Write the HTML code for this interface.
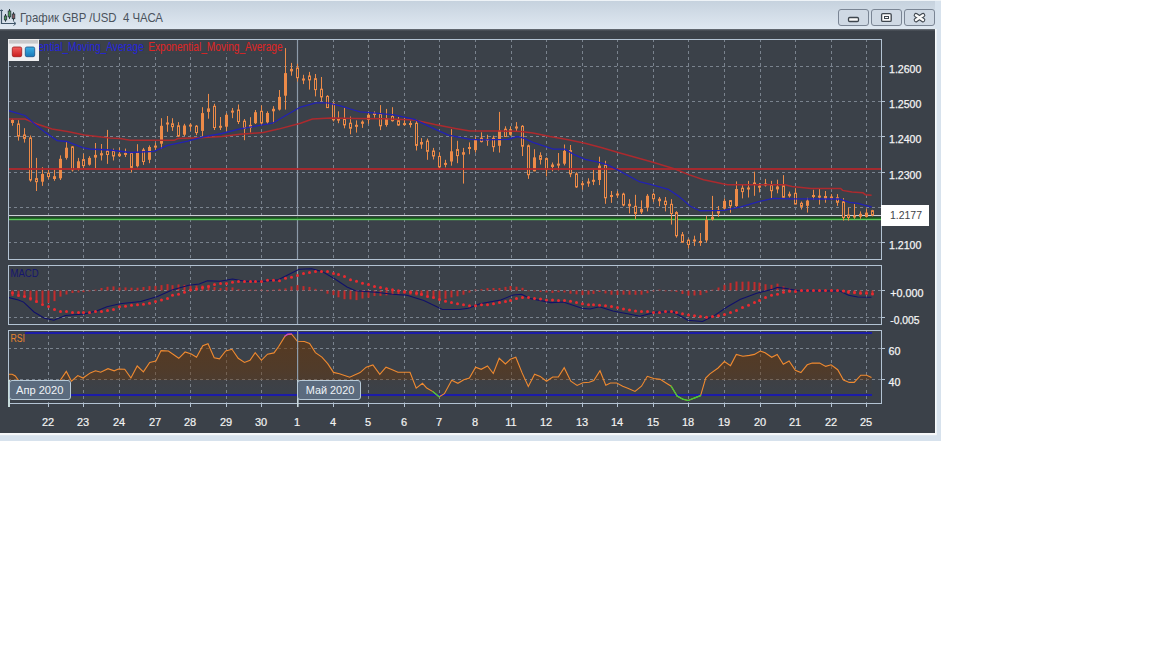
<!DOCTYPE html>
<html><head><meta charset="utf-8">
<style>
html,body{margin:0;padding:0;width:1152px;height:648px;overflow:hidden;background:#fff;}
svg{display:block;}
text{font-family:"Liberation Sans",sans-serif;}
</style></head><body>
<svg width="1152" height="648" viewBox="0 0 1152 648">
<defs>
<linearGradient id="tb" x1="0" y1="0" x2="0" y2="1"><stop offset="0" stop-color="#c6d2de"/><stop offset="1" stop-color="#dfe8f1"/></linearGradient>
<linearGradient id="sh" x1="0" y1="0" x2="0" y2="1"><stop offset="0" stop-color="#6c737b"/><stop offset="1" stop-color="#3b4149"/></linearGradient>
<linearGradient id="rsif" gradientUnits="userSpaceOnUse" x1="0" y1="332" x2="0" y2="395"><stop offset="0" stop-color="#6a3404" stop-opacity="0.6"/><stop offset="0.6" stop-color="#6a3404" stop-opacity="0.45"/><stop offset="0.755" stop-color="#6a3404" stop-opacity="0.38"/><stop offset="0.765" stop-color="#6a3404" stop-opacity="0.07"/><stop offset="1" stop-color="#6a3404" stop-opacity="0"/></linearGradient>
<linearGradient id="rb" x1="0" y1="0" x2="0" y2="1"><stop offset="0" stop-color="#f46060"/><stop offset="1" stop-color="#c81c1c"/></linearGradient>
<linearGradient id="bb" x1="0" y1="0" x2="0" y2="1"><stop offset="0" stop-color="#3cb0e4"/><stop offset="1" stop-color="#1878b8"/></linearGradient>
<clipPath id="cmain"><rect x="9" y="40" width="872" height="219"/></clipPath>
<clipPath id="cmacd"><rect x="9" y="266" width="872" height="58"/></clipPath>
<clipPath id="crsi"><rect x="9" y="331" width="872" height="72"/></clipPath>
<clipPath id="crsiabove"><rect x="9" y="331" width="872" height="64.5"/></clipPath>
</defs>
<rect x="0" y="0" width="941" height="441" fill="#d7e2ed"/>
<rect x="0" y="0" width="941" height="1" fill="#eef3f7"/>
<rect x="0" y="1" width="935" height="28" fill="url(#tb)"/>
<rect x="0" y="29" width="935" height="404" fill="#3b4149"/>
<rect x="0" y="29" width="935" height="2" fill="url(#sh)"/>
<rect x="0" y="433" width="936.5" height="2.2" fill="#f6f8fa"/>
<rect x="935" y="29" width="1.6" height="406" fill="#f6f8fa"/>
<g>
<path d="M1.5 9.5 V23.5 H15" fill="none" stroke="#3e5468" stroke-width="1.2"/>
<path d="M0 10.5 H3" stroke="#3e5468" stroke-width="1"/>
<path d="M13.5 21.5 L16 23.5 L13.5 25.5" fill="none" stroke="#3e5468" stroke-width="1"/>
<path d="M5.5 14 V21.7 M9.5 9 V18.9 M13.5 12.2 V20.7" stroke="#26363e" stroke-width="1"/>
<rect x="4.3" y="16" width="2.4" height="3.9" fill="#4e9a56" stroke="#26363e" stroke-width="0.8"/>
<rect x="8.2" y="11" width="2.6" height="5.9" fill="#4e9a56" stroke="#26363e" stroke-width="0.8"/>
<rect x="12.2" y="14" width="2.6" height="4.7" fill="#8a5a62" stroke="#26363e" stroke-width="0.8"/>
</g>
<text x="20" y="21.7" font-size="12.2" fill="#4b535d" textLength="143" lengthAdjust="spacingAndGlyphs" xml:space="preserve">График GBP /USD  4 ЧАСА</text>
<g stroke="#7a8594" stroke-width="1" fill="#cfd9e4">
<rect x="838.5" y="9.5" width="30" height="16" rx="2.5"/>
<rect x="871.5" y="9.5" width="30" height="16" rx="2.5"/>
<rect x="904.5" y="9.5" width="30" height="16" rx="2.5"/>
</g>
<rect x="848.5" y="17.5" width="10" height="4" rx="1.2" fill="#fafafa" stroke="#3e464e" stroke-width="1.3"/>
<rect x="881.6" y="13.6" width="9.6" height="7.8" rx="1.2" fill="#fafafa" stroke="#3e464e" stroke-width="1.3"/>
<rect x="884.5" y="16.5" width="4" height="2" fill="#fafafa" stroke="#3e464e" stroke-width="1"/>
<path d="M916 15.2 L923 20 M923 15.2 L916 20" stroke="#3e464e" stroke-width="4.6" stroke-linecap="round"/>
<path d="M916 15.2 L923 20 M923 15.2 L916 20" stroke="#fafafa" stroke-width="2.5" stroke-linecap="round"/>
<line x1="48.5" y1="39" x2="48.5" y2="259" stroke="#7a838e" stroke-width="1" stroke-dasharray="3 3"/>
<line x1="83.5" y1="39" x2="83.5" y2="259" stroke="#7a838e" stroke-width="1" stroke-dasharray="3 3"/>
<line x1="119.5" y1="39" x2="119.5" y2="259" stroke="#7a838e" stroke-width="1" stroke-dasharray="3 3"/>
<line x1="155.5" y1="39" x2="155.5" y2="259" stroke="#7a838e" stroke-width="1" stroke-dasharray="3 3"/>
<line x1="190.5" y1="39" x2="190.5" y2="259" stroke="#7a838e" stroke-width="1" stroke-dasharray="3 3"/>
<line x1="226.5" y1="39" x2="226.5" y2="259" stroke="#7a838e" stroke-width="1" stroke-dasharray="3 3"/>
<line x1="261.5" y1="39" x2="261.5" y2="259" stroke="#7a838e" stroke-width="1" stroke-dasharray="3 3"/>
<line x1="297.5" y1="39" x2="297.5" y2="259" stroke="#7a838e" stroke-width="1" stroke-dasharray="3 3"/>
<line x1="333.5" y1="39" x2="333.5" y2="259" stroke="#7a838e" stroke-width="1" stroke-dasharray="3 3"/>
<line x1="368.5" y1="39" x2="368.5" y2="259" stroke="#7a838e" stroke-width="1" stroke-dasharray="3 3"/>
<line x1="404.5" y1="39" x2="404.5" y2="259" stroke="#7a838e" stroke-width="1" stroke-dasharray="3 3"/>
<line x1="439.5" y1="39" x2="439.5" y2="259" stroke="#7a838e" stroke-width="1" stroke-dasharray="3 3"/>
<line x1="475.5" y1="39" x2="475.5" y2="259" stroke="#7a838e" stroke-width="1" stroke-dasharray="3 3"/>
<line x1="511.5" y1="39" x2="511.5" y2="259" stroke="#7a838e" stroke-width="1" stroke-dasharray="3 3"/>
<line x1="546.5" y1="39" x2="546.5" y2="259" stroke="#7a838e" stroke-width="1" stroke-dasharray="3 3"/>
<line x1="582.5" y1="39" x2="582.5" y2="259" stroke="#7a838e" stroke-width="1" stroke-dasharray="3 3"/>
<line x1="617.5" y1="39" x2="617.5" y2="259" stroke="#7a838e" stroke-width="1" stroke-dasharray="3 3"/>
<line x1="653.5" y1="39" x2="653.5" y2="259" stroke="#7a838e" stroke-width="1" stroke-dasharray="3 3"/>
<line x1="688.5" y1="39" x2="688.5" y2="259" stroke="#7a838e" stroke-width="1" stroke-dasharray="3 3"/>
<line x1="724.5" y1="39" x2="724.5" y2="259" stroke="#7a838e" stroke-width="1" stroke-dasharray="3 3"/>
<line x1="760.5" y1="39" x2="760.5" y2="259" stroke="#7a838e" stroke-width="1" stroke-dasharray="3 3"/>
<line x1="795.5" y1="39" x2="795.5" y2="259" stroke="#7a838e" stroke-width="1" stroke-dasharray="3 3"/>
<line x1="831.5" y1="39" x2="831.5" y2="259" stroke="#7a838e" stroke-width="1" stroke-dasharray="3 3"/>
<line x1="866.5" y1="39" x2="866.5" y2="259" stroke="#7a838e" stroke-width="1" stroke-dasharray="3 3"/>
<line x1="8" y1="66.5" x2="881" y2="66.5" stroke="#7a838e" stroke-width="1" stroke-dasharray="3 3"/>
<line x1="881" y1="66.5" x2="885" y2="66.5" stroke="#b3c3d3" stroke-width="1"/>
<line x1="8" y1="101.5" x2="881" y2="101.5" stroke="#7a838e" stroke-width="1" stroke-dasharray="3 3"/>
<line x1="881" y1="101.5" x2="885" y2="101.5" stroke="#b3c3d3" stroke-width="1"/>
<line x1="8" y1="136.5" x2="881" y2="136.5" stroke="#7a838e" stroke-width="1" stroke-dasharray="3 3"/>
<line x1="881" y1="136.5" x2="885" y2="136.5" stroke="#b3c3d3" stroke-width="1"/>
<line x1="8" y1="172.5" x2="881" y2="172.5" stroke="#7a838e" stroke-width="1" stroke-dasharray="3 3"/>
<line x1="881" y1="172.5" x2="885" y2="172.5" stroke="#b3c3d3" stroke-width="1"/>
<line x1="8" y1="207.5" x2="881" y2="207.5" stroke="#7a838e" stroke-width="1" stroke-dasharray="3 3"/>
<line x1="881" y1="207.5" x2="885" y2="207.5" stroke="#b3c3d3" stroke-width="1"/>
<line x1="8" y1="242.5" x2="881" y2="242.5" stroke="#7a838e" stroke-width="1" stroke-dasharray="3 3"/>
<line x1="881" y1="242.5" x2="885" y2="242.5" stroke="#b3c3d3" stroke-width="1"/>
<line x1="297.5" y1="39" x2="297.5" y2="259" stroke="#8d9baa" stroke-width="1.2"/>
<g clip-path="url(#cmain)">
<rect x="8" y="215" width="873" height="1.2" fill="#cdd1d6"/>
<rect x="8" y="216.2" width="873" height="1.2" fill="#2c3834"/>
<rect x="8" y="217.4" width="873" height="1.4" fill="#0e5c10"/>
<rect x="8" y="218.8" width="873" height="1.4" fill="#5cc45c"/>
<g stroke="#ec8a48" stroke-width="1" fill="none">
<line x1="12.5" y1="118.9" x2="12.5" y2="125.7"/><rect x="11.0" y="120.0" width="3" height="3.0" fill="#ec8a48" stroke="none"/>
<line x1="18.5" y1="120.2" x2="18.5" y2="140.6"/><rect x="17.5" y="124.0" width="2" height="12.2" fill="#3b4149"/>
<line x1="24.5" y1="128.2" x2="24.5" y2="142.6"/><rect x="23.5" y="135.0" width="2" height="3.4" fill="#3b4149"/>
<line x1="30.5" y1="135.5" x2="30.5" y2="181.7"/><rect x="29.5" y="137.9" width="2" height="42.1" fill="#3b4149"/>
<line x1="36.5" y1="157.9" x2="36.5" y2="191.0"/><rect x="35.5" y="178.6" width="2" height="3.1" fill="#3b4149"/>
<line x1="42.5" y1="167.2" x2="42.5" y2="185.9"/><rect x="41.0" y="174.0" width="3" height="7.7" fill="#ec8a48" stroke="none"/>
<line x1="48.5" y1="169.8" x2="48.5" y2="179.1"/><rect x="47.5" y="173.2" width="2" height="3.4" fill="#3b4149"/>
<line x1="54.5" y1="169.5" x2="54.5" y2="180.8"/><rect x="53.0" y="176.2" width="3" height="2.8" fill="#ec8a48" stroke="none"/>
<line x1="60.5" y1="155.4" x2="60.5" y2="180.0"/><rect x="59.0" y="158.8" width="3" height="19.5" fill="#ec8a48" stroke="none"/>
<line x1="66.5" y1="141.8" x2="66.5" y2="159.6"/><rect x="65.0" y="147.7" width="3" height="10.2" fill="#ec8a48" stroke="none"/>
<line x1="72.5" y1="146.0" x2="72.5" y2="171.5"/><rect x="71.5" y="146.9" width="2" height="22.9" fill="#3b4149"/>
<line x1="78.5" y1="157.9" x2="78.5" y2="170.6"/><rect x="77.0" y="161.3" width="3" height="7.7" fill="#ec8a48" stroke="none"/>
<line x1="83.5" y1="153.7" x2="83.5" y2="168.1"/><rect x="82.5" y="159.6" width="2" height="6.0" fill="#3b4149"/>
<line x1="89.5" y1="156.2" x2="89.5" y2="165.6"/><rect x="88.0" y="157.9" width="3" height="6.8" fill="#ec8a48" stroke="none"/>
<line x1="95.5" y1="143.0" x2="95.5" y2="168.1"/><rect x="94.0" y="154.9" width="3" height="2.7" fill="#ec8a48" stroke="none"/>
<line x1="101.5" y1="144.0" x2="101.5" y2="160.5"/><rect x="100.0" y="153.2" width="3" height="2.2" fill="#ec8a48" stroke="none"/>
<line x1="107.5" y1="129.9" x2="107.5" y2="163.9"/><rect x="106.5" y="151.1" width="2" height="3.4" fill="#3b4149"/>
<line x1="113.5" y1="148.6" x2="113.5" y2="160.5"/><rect x="112.5" y="151.0" width="2" height="5.0" fill="#3b4149"/>
<line x1="119.5" y1="147.7" x2="119.5" y2="157.0"/><rect x="118.0" y="153.7" width="3" height="2.5" fill="#ec8a48" stroke="none"/>
<line x1="125.5" y1="148.6" x2="125.5" y2="157.0"/><rect x="124.0" y="152.9" width="3" height="2" fill="#ec8a48" stroke="none"/>
<line x1="131.5" y1="152.2" x2="131.5" y2="172.5"/><rect x="130.5" y="153.0" width="2" height="14.4" fill="#3b4149"/>
<line x1="137.5" y1="144.2" x2="137.5" y2="167.4"/><rect x="136.0" y="152.7" width="3" height="13.5" fill="#ec8a48" stroke="none"/>
<line x1="143.5" y1="147.9" x2="143.5" y2="164.9"/><rect x="142.5" y="150.0" width="2" height="11.5" fill="#3b4149"/>
<line x1="149.5" y1="145.4" x2="149.5" y2="163.2"/><rect x="148.0" y="147.0" width="3" height="12.8" fill="#ec8a48" stroke="none"/>
<line x1="155.5" y1="142.8" x2="155.5" y2="150.5"/><rect x="154.0" y="145.6" width="3" height="2" fill="#ec8a48" stroke="none"/>
<line x1="161.5" y1="118.2" x2="161.5" y2="148.8"/><rect x="160.0" y="125.8" width="3" height="17.9" fill="#ec8a48" stroke="none"/>
<line x1="167.5" y1="116.0" x2="167.5" y2="131.8"/><rect x="166.0" y="122.5" width="3" height="2" fill="#ec8a48" stroke="none"/>
<line x1="172.5" y1="118.2" x2="172.5" y2="130.9"/><rect x="171.5" y="123.8" width="2" height="2.9" fill="#3b4149"/>
<line x1="178.5" y1="122.1" x2="178.5" y2="136.9"/><rect x="177.5" y="125.8" width="2" height="10.2" fill="#3b4149"/>
<line x1="184.5" y1="123.8" x2="184.5" y2="136.0"/><rect x="183.0" y="125.5" width="3" height="9.2" fill="#ec8a48" stroke="none"/>
<line x1="190.5" y1="123.3" x2="190.5" y2="130.9"/><rect x="189.0" y="124.6" width="3" height="2" fill="#ec8a48" stroke="none"/>
<line x1="196.5" y1="125.0" x2="196.5" y2="135.2"/><rect x="195.5" y="126.2" width="2" height="6.4" fill="#3b4149"/>
<line x1="202.5" y1="107.2" x2="202.5" y2="136.0"/><rect x="201.0" y="113.1" width="3" height="17.8" fill="#ec8a48" stroke="none"/>
<line x1="208.5" y1="93.9" x2="208.5" y2="118.7"/><rect x="207.5" y="108.9" width="2" height="2.5" fill="#3b4149"/>
<line x1="214.5" y1="103.8" x2="214.5" y2="130.0"/><rect x="213.5" y="106.3" width="2" height="21.2" fill="#3b4149"/>
<line x1="220.5" y1="117.0" x2="220.5" y2="130.0"/><rect x="219.0" y="125.8" width="3" height="2" fill="#ec8a48" stroke="none"/>
<line x1="226.5" y1="113.1" x2="226.5" y2="130.9"/><rect x="225.0" y="114.8" width="3" height="11.9" fill="#ec8a48" stroke="none"/>
<line x1="232.5" y1="108.0" x2="232.5" y2="118.2"/><rect x="231.0" y="110.6" width="3" height="2" fill="#ec8a48" stroke="none"/>
<line x1="238.5" y1="104.5" x2="238.5" y2="124.0"/><rect x="237.5" y="110.0" width="2" height="11.5" fill="#3b4149"/>
<line x1="244.5" y1="119.0" x2="244.5" y2="140.2"/><rect x="243.5" y="121.2" width="2" height="7.1" fill="#3b4149"/>
<line x1="250.5" y1="117.2" x2="250.5" y2="132.5"/><rect x="249.0" y="124.9" width="3" height="3.1" fill="#ec8a48" stroke="none"/>
<line x1="255.5" y1="110.0" x2="255.5" y2="124.0"/><rect x="254.0" y="112.2" width="3" height="11.0" fill="#ec8a48" stroke="none"/>
<line x1="261.5" y1="105.4" x2="261.5" y2="124.9"/><rect x="260.5" y="111.3" width="2" height="11.6" fill="#3b4149"/>
<line x1="267.5" y1="111.3" x2="267.5" y2="124.0"/><rect x="266.0" y="113.0" width="3" height="9.3" fill="#ec8a48" stroke="none"/>
<line x1="273.5" y1="106.2" x2="273.5" y2="123.2"/><rect x="272.0" y="108.8" width="3" height="2.5" fill="#ec8a48" stroke="none"/>
<line x1="279.5" y1="90.0" x2="279.5" y2="110.5"/><rect x="278.0" y="96.9" width="3" height="12.7" fill="#ec8a48" stroke="none"/>
<line x1="285.5" y1="48.1" x2="285.5" y2="109.6"/><rect x="284.0" y="73.1" width="3" height="22.6" fill="#ec8a48" stroke="none"/>
<line x1="291.5" y1="62.9" x2="291.5" y2="75.7"/><rect x="290.0" y="68.9" width="3" height="2.5" fill="#ec8a48" stroke="none"/>
<line x1="297.5" y1="63.8" x2="297.5" y2="81.6"/><rect x="296.5" y="68.0" width="2" height="9.7" fill="#3b4149"/>
<line x1="303.5" y1="74.8" x2="303.5" y2="84.1"/><rect x="302.0" y="78.5" width="3" height="2" fill="#ec8a48" stroke="none"/>
<line x1="309.5" y1="71.9" x2="309.5" y2="89.6"/><rect x="308.5" y="76.0" width="2" height="3.9" fill="#3b4149"/>
<line x1="315.5" y1="74.0" x2="315.5" y2="96.4"/><rect x="314.5" y="78.7" width="2" height="10.9" fill="#3b4149"/>
<line x1="321.5" y1="77.0" x2="321.5" y2="101.5"/><rect x="320.5" y="89.2" width="2" height="7.7" fill="#3b4149"/>
<line x1="327.5" y1="95.2" x2="327.5" y2="107.9"/><rect x="326.5" y="96.4" width="2" height="11.2" fill="#3b4149"/>
<line x1="333.5" y1="102.0" x2="333.5" y2="121.5"/><rect x="332.5" y="103.7" width="2" height="16.1" fill="#3b4149"/>
<line x1="338.5" y1="111.3" x2="338.5" y2="123.2"/><rect x="337.0" y="118.1" width="3" height="2.5" fill="#ec8a48" stroke="none"/>
<line x1="344.5" y1="107.9" x2="344.5" y2="128.3"/><rect x="343.5" y="119.5" width="2" height="5.4" fill="#3b4149"/>
<line x1="350.5" y1="116.5" x2="350.5" y2="134.3"/><rect x="349.5" y="123.2" width="2" height="5.0" fill="#3b4149"/>
<line x1="356.5" y1="120.4" x2="356.5" y2="132.6"/><rect x="355.0" y="124.8" width="3" height="2" fill="#ec8a48" stroke="none"/>
<line x1="362.5" y1="120.4" x2="362.5" y2="127.9"/><rect x="361.0" y="121.6" width="3" height="2.2" fill="#ec8a48" stroke="none"/>
<line x1="368.5" y1="113.1" x2="368.5" y2="123.8"/><rect x="367.0" y="114.8" width="3" height="5.1" fill="#ec8a48" stroke="none"/>
<line x1="374.5" y1="111.4" x2="374.5" y2="117.7"/><rect x="373.0" y="113.0" width="3" height="2" fill="#ec8a48" stroke="none"/>
<line x1="380.5" y1="105.1" x2="380.5" y2="130.1"/><rect x="379.5" y="114.0" width="2" height="11.8" fill="#3b4149"/>
<line x1="386.5" y1="108.9" x2="386.5" y2="126.7"/><rect x="385.0" y="118.2" width="3" height="6.8" fill="#ec8a48" stroke="none"/>
<line x1="392.5" y1="107.2" x2="392.5" y2="121.6"/><rect x="391.5" y="116.5" width="2" height="4.2" fill="#3b4149"/>
<line x1="398.5" y1="117.0" x2="398.5" y2="125.8"/><rect x="397.5" y="120.7" width="2" height="4.3" fill="#3b4149"/>
<line x1="404.5" y1="117.7" x2="404.5" y2="125.8"/><rect x="403.0" y="123.1" width="3" height="2" fill="#ec8a48" stroke="none"/>
<line x1="410.5" y1="120.7" x2="410.5" y2="127.5"/><rect x="409.0" y="123.0" width="3" height="2" fill="#ec8a48" stroke="none"/>
<line x1="416.5" y1="119.9" x2="416.5" y2="150.5"/><rect x="415.5" y="123.3" width="2" height="22.1" fill="#3b4149"/>
<line x1="421.5" y1="138.1" x2="421.5" y2="148.8"/><rect x="420.0" y="142.0" width="3" height="2.5" fill="#ec8a48" stroke="none"/>
<line x1="427.5" y1="138.6" x2="427.5" y2="159.8"/><rect x="426.5" y="141.1" width="2" height="10.2" fill="#3b4149"/>
<line x1="433.5" y1="147.9" x2="433.5" y2="159.5"/><rect x="432.5" y="151.0" width="2" height="5.0" fill="#3b4149"/>
<line x1="439.5" y1="152.2" x2="439.5" y2="168.3"/><rect x="438.5" y="156.4" width="2" height="10.5" fill="#3b4149"/>
<line x1="445.5" y1="159.8" x2="445.5" y2="167.4"/><rect x="444.0" y="162.9" width="3" height="2" fill="#ec8a48" stroke="none"/>
<line x1="451.5" y1="129.2" x2="451.5" y2="165.7"/><rect x="450.0" y="151.3" width="3" height="10.2" fill="#ec8a48" stroke="none"/>
<line x1="457.5" y1="140.8" x2="457.5" y2="163.2"/><rect x="456.5" y="149.6" width="2" height="6.0" fill="#3b4149"/>
<line x1="463.5" y1="147.9" x2="463.5" y2="183.6"/><rect x="462.0" y="152.2" width="3" height="2.5" fill="#ec8a48" stroke="none"/>
<line x1="469.5" y1="142.4" x2="469.5" y2="154.3"/><rect x="468.0" y="147.0" width="3" height="2" fill="#ec8a48" stroke="none"/>
<line x1="475.5" y1="136.5" x2="475.5" y2="152.6"/><rect x="474.0" y="139.9" width="3" height="10.2" fill="#ec8a48" stroke="none"/>
<line x1="481.5" y1="132.3" x2="481.5" y2="142.4"/><rect x="480.5" y="138.2" width="2" height="3.4" fill="#3b4149"/>
<line x1="487.5" y1="134.8" x2="487.5" y2="145.8"/><rect x="486.0" y="138.8" width="3" height="2" fill="#ec8a48" stroke="none"/>
<line x1="493.5" y1="135.7" x2="493.5" y2="151.8"/><rect x="492.5" y="138.2" width="2" height="8.5" fill="#3b4149"/>
<line x1="499.5" y1="111.9" x2="499.5" y2="152.6"/><rect x="498.0" y="130.6" width="3" height="15.2" fill="#ec8a48" stroke="none"/>
<line x1="505.5" y1="126.3" x2="505.5" y2="137.0"/><rect x="504.5" y="129.2" width="2" height="7.3" fill="#3b4149"/>
<line x1="510.5" y1="126.3" x2="510.5" y2="135.7"/><rect x="509.0" y="129.2" width="3" height="5.6" fill="#ec8a48" stroke="none"/>
<line x1="516.5" y1="122.1" x2="516.5" y2="131.4"/><rect x="515.0" y="126.5" width="3" height="2" fill="#ec8a48" stroke="none"/>
<line x1="522.5" y1="125.1" x2="522.5" y2="156.0"/><rect x="521.5" y="126.3" width="2" height="19.9" fill="#3b4149"/>
<line x1="528.5" y1="144.5" x2="528.5" y2="178.9"/><rect x="527.5" y="145.8" width="2" height="28.9" fill="#3b4149"/>
<line x1="534.5" y1="149.2" x2="534.5" y2="171.3"/><rect x="533.0" y="157.4" width="3" height="13.9" fill="#ec8a48" stroke="none"/>
<line x1="540.5" y1="152.3" x2="540.5" y2="164.5"/><rect x="539.5" y="155.7" width="2" height="3.7" fill="#3b4149"/>
<line x1="546.5" y1="157.4" x2="546.5" y2="176.4"/><rect x="545.5" y="158.6" width="2" height="11.0" fill="#3b4149"/>
<line x1="552.5" y1="162.5" x2="552.5" y2="171.3"/><rect x="551.0" y="164.5" width="3" height="2.5" fill="#ec8a48" stroke="none"/>
<line x1="558.5" y1="153.0" x2="558.5" y2="170.5"/><rect x="557.0" y="163.6" width="3" height="2" fill="#ec8a48" stroke="none"/>
<line x1="564.5" y1="144.5" x2="564.5" y2="165.4"/><rect x="563.0" y="150.9" width="3" height="12.8" fill="#ec8a48" stroke="none"/>
<line x1="570.5" y1="145.0" x2="570.5" y2="177.2"/><rect x="569.5" y="150.6" width="2" height="23.3" fill="#3b4149"/>
<line x1="576.5" y1="172.2" x2="576.5" y2="187.9"/><rect x="575.5" y="173.9" width="2" height="13.0" fill="#3b4149"/>
<line x1="582.5" y1="180.8" x2="582.5" y2="189.7"/><rect x="581.0" y="183.2" width="3" height="2" fill="#ec8a48" stroke="none"/>
<line x1="588.5" y1="178.3" x2="588.5" y2="186.8"/><rect x="587.0" y="181.5" width="3" height="2" fill="#ec8a48" stroke="none"/>
<line x1="593.5" y1="169.8" x2="593.5" y2="185.1"/><rect x="592.0" y="179.8" width="3" height="2" fill="#ec8a48" stroke="none"/>
<line x1="599.5" y1="156.7" x2="599.5" y2="185.1"/><rect x="598.0" y="165.6" width="3" height="14.4" fill="#ec8a48" stroke="none"/>
<line x1="605.5" y1="160.8" x2="605.5" y2="203.8"/><rect x="604.5" y="165.2" width="2" height="32.6" fill="#3b4149"/>
<line x1="611.5" y1="191.0" x2="611.5" y2="202.9"/><rect x="610.0" y="195.0" width="3" height="2" fill="#ec8a48" stroke="none"/>
<line x1="617.5" y1="191.0" x2="617.5" y2="197.8"/><rect x="616.0" y="193.5" width="3" height="2" fill="#ec8a48" stroke="none"/>
<line x1="623.5" y1="192.7" x2="623.5" y2="206.3"/><rect x="622.5" y="194.1" width="2" height="10.9" fill="#3b4149"/>
<line x1="629.5" y1="199.2" x2="629.5" y2="213.4"/><rect x="628.0" y="203.8" width="3" height="2.5" fill="#ec8a48" stroke="none"/>
<line x1="635.5" y1="194.8" x2="635.5" y2="219.0"/><rect x="634.5" y="206.3" width="2" height="7.1" fill="#3b4149"/>
<line x1="641.5" y1="200.4" x2="641.5" y2="214.0"/><rect x="640.0" y="208.9" width="3" height="3.4" fill="#ec8a48" stroke="none"/>
<line x1="647.5" y1="194.1" x2="647.5" y2="211.4"/><rect x="646.0" y="195.8" width="3" height="11.9" fill="#ec8a48" stroke="none"/>
<line x1="653.5" y1="192.7" x2="653.5" y2="202.1"/><rect x="652.5" y="194.4" width="2" height="4.3" fill="#3b4149"/>
<line x1="659.5" y1="197.0" x2="659.5" y2="206.3"/><rect x="658.0" y="198.7" width="3" height="2.5" fill="#ec8a48" stroke="none"/>
<line x1="665.5" y1="197.0" x2="665.5" y2="211.4"/><rect x="664.5" y="201.2" width="2" height="3.4" fill="#3b4149"/>
<line x1="671.5" y1="199.2" x2="671.5" y2="224.6"/><rect x="670.5" y="204.3" width="2" height="9.2" fill="#3b4149"/>
<line x1="676.5" y1="211.2" x2="676.5" y2="237.6"/><rect x="675.5" y="212.6" width="2" height="23.1" fill="#3b4149"/>
<line x1="682.5" y1="232.0" x2="682.5" y2="242.7"/><rect x="681.5" y="234.8" width="2" height="7.4" fill="#3b4149"/>
<line x1="688.5" y1="238.5" x2="688.5" y2="248.7"/><rect x="687.5" y="240.2" width="2" height="4.3" fill="#3b4149"/>
<line x1="694.5" y1="235.7" x2="694.5" y2="245.9"/><rect x="693.0" y="239.5" width="3" height="2" fill="#ec8a48" stroke="none"/>
<line x1="700.5" y1="233.0" x2="700.5" y2="245.9"/><rect x="699.0" y="241.0" width="3" height="2" fill="#ec8a48" stroke="none"/>
<line x1="706.5" y1="215.8" x2="706.5" y2="242.7"/><rect x="705.0" y="220.0" width="3" height="20.4" fill="#ec8a48" stroke="none"/>
<line x1="712.5" y1="195.9" x2="712.5" y2="220.5"/><rect x="711.0" y="216.8" width="3" height="2.7" fill="#ec8a48" stroke="none"/>
<line x1="718.5" y1="206.1" x2="718.5" y2="216.8"/><rect x="717.0" y="209.8" width="3" height="3.7" fill="#ec8a48" stroke="none"/>
<line x1="724.5" y1="198.4" x2="724.5" y2="209.4"/><rect x="723.0" y="200.9" width="3" height="7.7" fill="#ec8a48" stroke="none"/>
<line x1="730.5" y1="200.0" x2="730.5" y2="212.8"/><rect x="729.5" y="200.6" width="2" height="5.1" fill="#3b4149"/>
<line x1="736.5" y1="181.4" x2="736.5" y2="206.9"/><rect x="735.0" y="189.0" width="3" height="17.0" fill="#ec8a48" stroke="none"/>
<line x1="742.5" y1="184.8" x2="742.5" y2="198.4"/><rect x="741.5" y="188.2" width="2" height="3.4" fill="#3b4149"/>
<line x1="748.5" y1="180.9" x2="748.5" y2="197.5"/><rect x="747.0" y="187.5" width="3" height="2" fill="#ec8a48" stroke="none"/>
<line x1="754.5" y1="171.7" x2="754.5" y2="195.8"/><rect x="753.0" y="182.5" width="3" height="2" fill="#ec8a48" stroke="none"/>
<line x1="759.5" y1="183.1" x2="759.5" y2="192.4"/><rect x="758.0" y="185.7" width="3" height="2" fill="#ec8a48" stroke="none"/>
<line x1="765.5" y1="178.9" x2="765.5" y2="186.5"/><rect x="764.0" y="183.5" width="3" height="2" fill="#ec8a48" stroke="none"/>
<line x1="771.5" y1="180.9" x2="771.5" y2="198.4"/><rect x="770.5" y="184.8" width="2" height="5.9" fill="#3b4149"/>
<line x1="777.5" y1="179.7" x2="777.5" y2="193.3"/><rect x="776.0" y="186.5" width="3" height="2.9" fill="#ec8a48" stroke="none"/>
<line x1="783.5" y1="175.1" x2="783.5" y2="197.5"/><rect x="782.5" y="185.7" width="2" height="11.5" fill="#3b4149"/>
<line x1="789.5" y1="191.6" x2="789.5" y2="197.5"/><rect x="788.0" y="193.8" width="3" height="2.4" fill="#ec8a48" stroke="none"/>
<line x1="795.5" y1="188.2" x2="795.5" y2="204.3"/><rect x="794.5" y="193.3" width="2" height="10.7" fill="#3b4149"/>
<line x1="801.5" y1="201.5" x2="801.5" y2="209.5"/><rect x="800.5" y="203.3" width="2" height="3.1" fill="#3b4149"/>
<line x1="807.5" y1="197.8" x2="807.5" y2="212.6"/><rect x="806.0" y="200.6" width="3" height="5.2" fill="#ec8a48" stroke="none"/>
<line x1="813.5" y1="189.8" x2="813.5" y2="199.6"/><rect x="812.0" y="195.0" width="3" height="2" fill="#ec8a48" stroke="none"/>
<line x1="819.5" y1="188.5" x2="819.5" y2="204.6"/><rect x="818.0" y="195.6" width="3" height="2" fill="#ec8a48" stroke="none"/>
<line x1="825.5" y1="191.0" x2="825.5" y2="202.7"/><rect x="824.0" y="196.0" width="3" height="3.0" fill="#ec8a48" stroke="none"/>
<line x1="831.5" y1="194.1" x2="831.5" y2="200.2"/><rect x="830.0" y="196.5" width="3" height="2" fill="#ec8a48" stroke="none"/>
<line x1="837.5" y1="194.1" x2="837.5" y2="205.8"/><rect x="836.5" y="197.8" width="2" height="4.5" fill="#3b4149"/>
<line x1="843.5" y1="198.1" x2="843.5" y2="220.6"/><rect x="842.5" y="201.9" width="2" height="15.6" fill="#3b4149"/>
<line x1="848.5" y1="207.7" x2="848.5" y2="220.6"/><rect x="847.5" y="215.0" width="2" height="2.5" fill="#3b4149"/>
<line x1="854.5" y1="204.0" x2="854.5" y2="218.8"/><rect x="853.0" y="215.5" width="3" height="2" fill="#ec8a48" stroke="none"/>
<line x1="860.5" y1="211.4" x2="860.5" y2="218.8"/><rect x="859.0" y="213.8" width="3" height="2.9" fill="#ec8a48" stroke="none"/>
<line x1="866.5" y1="208.9" x2="866.5" y2="217.5"/><rect x="865.0" y="212.6" width="3" height="4.3" fill="#ec8a48" stroke="none"/>
<line x1="872.5" y1="209.8" x2="872.5" y2="216.3"/><rect x="871.5" y="210.7" width="2" height="4.3" fill="#3b4149"/>
</g>
<rect x="8" y="168" width="873" height="2" fill="#b0282c" fill-opacity="0.9"/>
<polyline points="8.0,118.9 25.0,119.0 36.9,124.0 52.0,129.0 67.4,131.6 84.4,135.0 110.0,138.0 120.0,138.6 130.2,140.3 174.3,140.3 177.7,138.6 199.8,137.7 221.9,136.4 240.0,134.3 263.2,132.5 278.4,129.1 300.5,123.2 312.4,119.0 331.0,118.1 356.0,118.4 384.0,118.7 414.5,119.9 434.9,124.5 455.3,128.4 470.0,130.9 499.0,130.9 521.0,131.4 533.0,133.1 550.0,136.5 567.0,139.4 585.0,143.3 602.0,147.7 619.0,152.8 653.0,162.2 675.0,169.0 688.7,174.6 703.6,179.7 727.4,184.8 785.0,184.8 791.9,186.5 811.0,188.5 840.7,188.5 842.6,190.4 851.9,192.0 863.0,192.8 865.4,194.7 871.6,195.3" fill="none" stroke="#ac2a2e" stroke-width="1.5"/>
<polyline points="8.0,110.4 25.0,115.5 33.5,123.0 45.4,132.4 57.2,140.6 66.6,141.5 82.7,147.7 89.5,149.0 109.9,150.0 130.2,152.5 154.0,151.3 167.5,145.4 187.9,141.1 203.2,136.9 221.9,133.5 240.0,128.9 253.0,126.6 272.5,123.2 287.0,114.7 300.5,107.0 315.8,102.8 327.7,102.8 341.3,106.2 352.0,109.5 360.2,111.9 375.5,113.1 394.1,114.8 414.5,119.4 434.9,129.2 448.5,135.2 470.0,139.4 482.0,139.9 507.4,139.4 517.6,136.5 523.6,138.2 532.9,142.4 553.3,149.2 565.2,149.2 573.7,154.3 585.0,159.4 597.0,161.8 607.2,164.7 619.0,170.7 639.4,181.7 651.3,184.6 668.3,189.3 678.5,196.1 690.4,206.3 700.2,210.8 724.0,210.3 741.0,206.9 757.9,201.8 773.2,198.4 791.9,198.9 839.5,199.0 849.4,202.3 858.0,203.3 864.2,205.2 871.6,207.0" fill="none" stroke="#2222b4" stroke-width="1.3"/>
</g>
<rect x="8.5" y="39.5" width="873" height="220" fill="none" stroke="#b3c3d3" stroke-width="1"/>
<rect x="9" y="40" width="275" height="13.5" fill="#3b4149"/>
<text x="9.5" y="51" font-size="12" fill="#2424dc" textLength="134.3" lengthAdjust="spacingAndGlyphs">Exponential_Moving_Average</text>
<text x="148.3" y="51" font-size="12" fill="#e02424" textLength="134.3" lengthAdjust="spacingAndGlyphs">Exponential_Moving_Average</text>
<rect x="8" y="39" width="31" height="22" fill="#efeff1"/>
<rect x="9" y="40" width="29" height="3.6" fill="#c9c9cb"/>
<rect x="12.3" y="47" width="9.4" height="9.7" rx="1.6" fill="url(#rb)" stroke="#9c1a1a" stroke-width="0.8"/>
<rect x="25.3" y="47" width="9.4" height="9.7" rx="1.6" fill="url(#bb)" stroke="#1a5088" stroke-width="0.8"/>
<text x="889" y="73.2" font-size="11.3" fill="#f4f4f4" stroke="#f4f4f4" stroke-width="0.25" textLength="32.4" lengthAdjust="spacingAndGlyphs">1.2600</text>
<text x="889" y="108.2" font-size="11.3" fill="#f4f4f4" stroke="#f4f4f4" stroke-width="0.25" textLength="32.4" lengthAdjust="spacingAndGlyphs">1.2500</text>
<text x="889" y="143.2" font-size="11.3" fill="#f4f4f4" stroke="#f4f4f4" stroke-width="0.25" textLength="32.4" lengthAdjust="spacingAndGlyphs">1.2400</text>
<text x="889" y="179.2" font-size="11.3" fill="#f4f4f4" stroke="#f4f4f4" stroke-width="0.25" textLength="32.4" lengthAdjust="spacingAndGlyphs">1.2300</text>
<text x="889" y="249.2" font-size="11.3" fill="#f4f4f4" stroke="#f4f4f4" stroke-width="0.25" textLength="32.4" lengthAdjust="spacingAndGlyphs">1.2100</text>
<rect x="881" y="205" width="48" height="21" fill="#ffffff"/>
<text x="890" y="219" font-size="11.3" fill="#404448" textLength="32" lengthAdjust="spacingAndGlyphs">1.2177</text>
<line x1="48.5" y1="265" x2="48.5" y2="324" stroke="#7a838e" stroke-width="1" stroke-dasharray="3 3"/>
<line x1="83.5" y1="265" x2="83.5" y2="324" stroke="#7a838e" stroke-width="1" stroke-dasharray="3 3"/>
<line x1="119.5" y1="265" x2="119.5" y2="324" stroke="#7a838e" stroke-width="1" stroke-dasharray="3 3"/>
<line x1="155.5" y1="265" x2="155.5" y2="324" stroke="#7a838e" stroke-width="1" stroke-dasharray="3 3"/>
<line x1="190.5" y1="265" x2="190.5" y2="324" stroke="#7a838e" stroke-width="1" stroke-dasharray="3 3"/>
<line x1="226.5" y1="265" x2="226.5" y2="324" stroke="#7a838e" stroke-width="1" stroke-dasharray="3 3"/>
<line x1="261.5" y1="265" x2="261.5" y2="324" stroke="#7a838e" stroke-width="1" stroke-dasharray="3 3"/>
<line x1="297.5" y1="265" x2="297.5" y2="324" stroke="#7a838e" stroke-width="1" stroke-dasharray="3 3"/>
<line x1="333.5" y1="265" x2="333.5" y2="324" stroke="#7a838e" stroke-width="1" stroke-dasharray="3 3"/>
<line x1="368.5" y1="265" x2="368.5" y2="324" stroke="#7a838e" stroke-width="1" stroke-dasharray="3 3"/>
<line x1="404.5" y1="265" x2="404.5" y2="324" stroke="#7a838e" stroke-width="1" stroke-dasharray="3 3"/>
<line x1="439.5" y1="265" x2="439.5" y2="324" stroke="#7a838e" stroke-width="1" stroke-dasharray="3 3"/>
<line x1="475.5" y1="265" x2="475.5" y2="324" stroke="#7a838e" stroke-width="1" stroke-dasharray="3 3"/>
<line x1="511.5" y1="265" x2="511.5" y2="324" stroke="#7a838e" stroke-width="1" stroke-dasharray="3 3"/>
<line x1="546.5" y1="265" x2="546.5" y2="324" stroke="#7a838e" stroke-width="1" stroke-dasharray="3 3"/>
<line x1="582.5" y1="265" x2="582.5" y2="324" stroke="#7a838e" stroke-width="1" stroke-dasharray="3 3"/>
<line x1="617.5" y1="265" x2="617.5" y2="324" stroke="#7a838e" stroke-width="1" stroke-dasharray="3 3"/>
<line x1="653.5" y1="265" x2="653.5" y2="324" stroke="#7a838e" stroke-width="1" stroke-dasharray="3 3"/>
<line x1="688.5" y1="265" x2="688.5" y2="324" stroke="#7a838e" stroke-width="1" stroke-dasharray="3 3"/>
<line x1="724.5" y1="265" x2="724.5" y2="324" stroke="#7a838e" stroke-width="1" stroke-dasharray="3 3"/>
<line x1="760.5" y1="265" x2="760.5" y2="324" stroke="#7a838e" stroke-width="1" stroke-dasharray="3 3"/>
<line x1="795.5" y1="265" x2="795.5" y2="324" stroke="#7a838e" stroke-width="1" stroke-dasharray="3 3"/>
<line x1="831.5" y1="265" x2="831.5" y2="324" stroke="#7a838e" stroke-width="1" stroke-dasharray="3 3"/>
<line x1="866.5" y1="265" x2="866.5" y2="324" stroke="#7a838e" stroke-width="1" stroke-dasharray="3 3"/>
<line x1="8" y1="290.5" x2="881" y2="290.5" stroke="#7a838e" stroke-width="1" stroke-dasharray="3 3"/>
<line x1="881" y1="290.5" x2="885" y2="290.5" stroke="#b3c3d3" stroke-width="1"/>
<line x1="8" y1="317.5" x2="881" y2="317.5" stroke="#7a838e" stroke-width="1" stroke-dasharray="3 3"/>
<line x1="881" y1="317.5" x2="885" y2="317.5" stroke="#b3c3d3" stroke-width="1"/>
<line x1="297.5" y1="265" x2="297.5" y2="324" stroke="#8d9baa" stroke-width="1.2"/>
<g clip-path="url(#cmacd)">
<g fill="#c22c2c">
<rect x="11.5" y="290.5" width="2" height="5.5"/><rect x="17.5" y="290.5" width="2" height="4.5"/><rect x="23.5" y="290.5" width="2" height="6.6"/><rect x="29.5" y="290.5" width="2" height="10.2"/><rect x="35.5" y="290.5" width="2" height="12.1"/><rect x="41.5" y="290.5" width="2" height="12.6"/><rect x="47.5" y="290.5" width="2" height="12.5"/><rect x="53.5" y="290.5" width="2" height="10.6"/><rect x="59.5" y="290.5" width="2" height="6.1"/><rect x="65.5" y="290.5" width="2" height="4.0"/><rect x="71.5" y="290.5" width="2" height="2.5"/><rect x="77.5" y="290.5" width="2" height="2.0"/><rect x="82.5" y="290.5" width="2" height="1.6"/><rect x="88.5" y="290.5" width="2" height="0.8"/><rect x="94.5" y="289.7" width="2" height="0.8"/><rect x="100.5" y="288.0" width="2" height="2.5"/><rect x="106.5" y="286.8" width="2" height="3.7"/><rect x="112.5" y="286.4" width="2" height="4.1"/><rect x="118.5" y="287.5" width="2" height="3.0"/><rect x="124.5" y="287.4" width="2" height="3.1"/><rect x="130.5" y="287.7" width="2" height="2.8"/><rect x="136.5" y="287.7" width="2" height="2.8"/><rect x="142.5" y="287.0" width="2" height="3.5"/><rect x="148.5" y="286.1" width="2" height="4.4"/><rect x="154.5" y="285.9" width="2" height="4.6"/><rect x="160.5" y="285.1" width="2" height="5.4"/><rect x="166.5" y="284.1" width="2" height="6.4"/><rect x="171.5" y="285.2" width="2" height="5.3"/><rect x="177.5" y="284.4" width="2" height="6.1"/><rect x="183.5" y="284.8" width="2" height="5.7"/><rect x="189.5" y="285.5" width="2" height="5.0"/><rect x="195.5" y="285.7" width="2" height="4.8"/><rect x="201.5" y="285.5" width="2" height="5.0"/><rect x="207.5" y="284.9" width="2" height="5.6"/><rect x="213.5" y="287.0" width="2" height="3.5"/><rect x="219.5" y="288.1" width="2" height="2.4"/><rect x="225.5" y="287.1" width="2" height="3.4"/><rect x="231.5" y="287.4" width="2" height="3.1"/><rect x="237.5" y="289.2" width="2" height="1.3"/><rect x="243.5" y="289.7" width="2" height="0.8"/><rect x="249.5" y="289.7" width="2" height="0.8"/><rect x="254.5" y="289.7" width="2" height="0.8"/><rect x="260.5" y="289.7" width="2" height="0.8"/><rect x="266.5" y="290.5" width="2" height="0.8"/><rect x="272.5" y="289.7" width="2" height="0.8"/><rect x="278.5" y="288.9" width="2" height="1.6"/><rect x="284.5" y="288.4" width="2" height="2.1"/><rect x="290.5" y="286.4" width="2" height="4.1"/><rect x="296.5" y="285.1" width="2" height="5.4"/><rect x="302.5" y="286.1" width="2" height="4.4"/><rect x="308.5" y="286.9" width="2" height="3.6"/><rect x="314.5" y="288.8" width="2" height="1.7"/><rect x="320.5" y="289.7" width="2" height="0.8"/><rect x="326.5" y="290.5" width="2" height="3.2"/><rect x="332.5" y="290.5" width="2" height="4.6"/><rect x="337.5" y="290.5" width="2" height="6.8"/><rect x="343.5" y="290.5" width="2" height="8.7"/><rect x="349.5" y="290.5" width="2" height="8.9"/><rect x="355.5" y="290.5" width="2" height="9.6"/><rect x="361.5" y="290.5" width="2" height="8.0"/><rect x="367.5" y="290.5" width="2" height="7.2"/><rect x="373.5" y="290.5" width="2" height="5.5"/><rect x="379.5" y="290.5" width="2" height="5.4"/><rect x="385.5" y="290.5" width="2" height="4.8"/><rect x="391.5" y="290.5" width="2" height="4.6"/><rect x="397.5" y="290.5" width="2" height="4.0"/><rect x="403.5" y="290.5" width="2" height="3.3"/><rect x="409.5" y="290.5" width="2" height="4.2"/><rect x="415.5" y="290.5" width="2" height="5.0"/><rect x="420.5" y="290.5" width="2" height="5.5"/><rect x="426.5" y="290.5" width="2" height="5.9"/><rect x="432.5" y="290.5" width="2" height="7.8"/><rect x="438.5" y="290.5" width="2" height="8.6"/><rect x="444.5" y="290.5" width="2" height="8.3"/><rect x="450.5" y="290.5" width="2" height="6.9"/><rect x="456.5" y="290.5" width="2" height="5.8"/><rect x="462.5" y="290.5" width="2" height="4.2"/><rect x="468.5" y="290.5" width="2" height="2.1"/><rect x="474.5" y="289.7" width="2" height="0.8"/><rect x="480.5" y="289.2" width="2" height="1.3"/><rect x="486.5" y="288.1" width="2" height="2.4"/><rect x="492.5" y="288.0" width="2" height="2.5"/><rect x="498.5" y="288.0" width="2" height="2.5"/><rect x="504.5" y="286.9" width="2" height="3.6"/><rect x="509.5" y="286.0" width="2" height="4.5"/><rect x="515.5" y="286.7" width="2" height="3.8"/><rect x="521.5" y="287.8" width="2" height="2.7"/><rect x="527.5" y="290.5" width="2" height="0.8"/><rect x="533.5" y="290.5" width="2" height="0.9"/><rect x="539.5" y="290.5" width="2" height="1.5"/><rect x="545.5" y="290.5" width="2" height="1.9"/><rect x="551.5" y="290.5" width="2" height="2.4"/><rect x="557.5" y="290.5" width="2" height="1.7"/><rect x="563.5" y="290.5" width="2" height="1.9"/><rect x="569.5" y="290.5" width="2" height="3.2"/><rect x="575.5" y="290.5" width="2" height="3.8"/><rect x="581.5" y="290.5" width="2" height="4.6"/><rect x="587.5" y="290.5" width="2" height="4.1"/><rect x="592.5" y="290.5" width="2" height="3.4"/><rect x="598.5" y="290.5" width="2" height="1.5"/><rect x="604.5" y="290.5" width="2" height="2.9"/><rect x="610.5" y="290.5" width="2" height="4.2"/><rect x="616.5" y="290.5" width="2" height="4.5"/><rect x="622.5" y="290.5" width="2" height="4.1"/><rect x="628.5" y="290.5" width="2" height="4.2"/><rect x="634.5" y="290.5" width="2" height="4.3"/><rect x="640.5" y="290.5" width="2" height="4.2"/><rect x="646.5" y="290.5" width="2" height="2.7"/><rect x="652.5" y="290.5" width="2" height="0.8"/><rect x="658.5" y="289.7" width="2" height="0.8"/><rect x="664.5" y="290.5" width="2" height="0.8"/><rect x="670.5" y="290.5" width="2" height="0.8"/><rect x="675.5" y="290.5" width="2" height="1.4"/><rect x="681.5" y="290.5" width="2" height="3.5"/><rect x="687.5" y="290.5" width="2" height="5.2"/><rect x="693.5" y="290.5" width="2" height="5.0"/><rect x="699.5" y="290.5" width="2" height="4.6"/><rect x="705.5" y="290.5" width="2" height="2.2"/><rect x="711.5" y="289.7" width="2" height="0.8"/><rect x="717.5" y="287.5" width="2" height="3.0"/><rect x="723.5" y="284.8" width="2" height="5.7"/><rect x="729.5" y="282.9" width="2" height="7.6"/><rect x="735.5" y="281.5" width="2" height="9.0"/><rect x="741.5" y="281.7" width="2" height="8.8"/><rect x="747.5" y="281.5" width="2" height="9.0"/><rect x="753.5" y="282.0" width="2" height="8.5"/><rect x="758.5" y="282.6" width="2" height="7.9"/><rect x="764.5" y="284.2" width="2" height="6.3"/><rect x="770.5" y="284.8" width="2" height="5.8"/><rect x="776.5" y="283.6" width="2" height="6.9"/><rect x="782.5" y="286.4" width="2" height="4.1"/><rect x="788.5" y="288.2" width="2" height="2.3"/><rect x="794.5" y="289.2" width="2" height="1.3"/><rect x="800.5" y="290.5" width="2" height="0.8"/><rect x="806.5" y="290.5" width="2" height="0.8"/><rect x="812.5" y="290.5" width="2" height="0.8"/><rect x="818.5" y="290.5" width="2" height="0.8"/><rect x="824.5" y="290.5" width="2" height="0.8"/><rect x="830.5" y="290.5" width="2" height="0.8"/><rect x="836.5" y="290.5" width="2" height="0.8"/><rect x="842.5" y="290.5" width="2" height="1.9"/><rect x="847.5" y="290.5" width="2" height="3.5"/><rect x="853.5" y="290.5" width="2" height="3.7"/><rect x="859.5" y="290.5" width="2" height="3.7"/><rect x="865.5" y="290.5" width="2" height="3.8"/><rect x="871.5" y="290.5" width="2" height="3.3"/>
</g>
<polyline points="8.0,297.4 18.4,300.0 23.6,302.1 34.0,312.0 44.5,318.2 53.8,320.3 65.3,315.6 84.0,314.1 96.5,311.0 107.0,306.8 120.0,303.7 140.8,301.6 157.5,296.4 172.0,290.1 188.8,285.3 199.2,283.9 207.5,280.8 220.0,281.2 232.5,279.1 245.0,281.2 265.8,281.2 278.3,279.7 286.7,275.5 299.2,269.3 311.7,268.7 322.0,271.4 334.6,278.7 347.0,287.0 355.4,290.8 375.8,292.2 392.5,294.3 407.0,295.3 423.8,300.5 442.5,309.5 459.2,309.5 468.5,308.2 480.0,303.7 500.8,299.9 513.3,294.9 521.7,294.3 530.0,298.5 550.8,302.6 563.3,302.0 582.0,308.2 590.0,308.9 599.4,306.8 612.9,311.0 627.5,313.7 640.0,316.2 656.7,312.0 673.3,312.0 687.9,320.3 702.5,321.4 715.0,315.1 727.5,306.8 740.0,299.5 756.7,293.2 773.3,289.1 777.5,287.4 788.0,288.7 798.3,290.8 839.5,290.9 848.6,295.2 857.7,296.9 871.4,297.2" fill="none" stroke="#10106a" stroke-width="1.05"/>
<g fill="#e82a30">
<circle cx="12.5" cy="293" r="1.5"/><circle cx="18.5" cy="295.5" r="1.5"/><circle cx="24.5" cy="296.4" r="1.5"/><circle cx="30.5" cy="298.5" r="1.5"/><circle cx="36.5" cy="301.4" r="1.5"/><circle cx="42.5" cy="304.5" r="1.5"/><circle cx="48.5" cy="306.6" r="1.5"/><circle cx="54.5" cy="309.4" r="1.5"/><circle cx="60.5" cy="311.5" r="1.5"/><circle cx="66.5" cy="311.5" r="1.5"/><circle cx="72.5" cy="312.5" r="1.5"/><circle cx="78.5" cy="312.5" r="1.5"/><circle cx="83.5" cy="312.5" r="1.5"/><circle cx="89.5" cy="312.5" r="1.5"/><circle cx="95.5" cy="311.5" r="1.5"/><circle cx="101.5" cy="311.5" r="1.5"/><circle cx="107.5" cy="310.4" r="1.5"/><circle cx="113.5" cy="309.4" r="1.5"/><circle cx="119.5" cy="306.8" r="1.5"/><circle cx="125.5" cy="306.2" r="1.5"/><circle cx="131.5" cy="305.3" r="1.5"/><circle cx="137.5" cy="304.7" r="1.5"/><circle cx="143.5" cy="304.3" r="1.5"/><circle cx="149.5" cy="303.25" r="1.5"/><circle cx="155.5" cy="301.6" r="1.5"/><circle cx="161.5" cy="300.1" r="1.5"/><circle cx="167.5" cy="298.5" r="1.5"/><circle cx="172.5" cy="295.3" r="1.5"/><circle cx="178.5" cy="294.3" r="1.5"/><circle cx="184.5" cy="292.2" r="1.5"/><circle cx="190.5" cy="290.1" r="1.5"/><circle cx="196.5" cy="289.1" r="1.5"/><circle cx="202.5" cy="287.6" r="1.5"/><circle cx="208.5" cy="286.4" r="1.5"/><circle cx="214.5" cy="284.5" r="1.5"/><circle cx="220.5" cy="283.5" r="1.5"/><circle cx="226.5" cy="283.5" r="1.5"/><circle cx="232.5" cy="282.2" r="1.5"/><circle cx="238.5" cy="281.4" r="1.5"/><circle cx="244.5" cy="281.4" r="1.5"/><circle cx="250.5" cy="281.4" r="1.5"/><circle cx="255.5" cy="281.4" r="1.5"/><circle cx="261.5" cy="281.4" r="1.5"/><circle cx="267.5" cy="280.3" r="1.5"/><circle cx="273.5" cy="280.3" r="1.5"/><circle cx="279.5" cy="280.75" r="1.5"/><circle cx="285.5" cy="278.25" r="1.5"/><circle cx="291.5" cy="277.2" r="1.5"/><circle cx="297.5" cy="275.5" r="1.5"/><circle cx="303.5" cy="273.5" r="1.5"/><circle cx="309.5" cy="272.4" r="1.5"/><circle cx="315.5" cy="271.4" r="1.5"/><circle cx="321.5" cy="271.4" r="1.5"/><circle cx="327.5" cy="271.4" r="1.5"/><circle cx="333.5" cy="273.5" r="1.5"/><circle cx="338.5" cy="274.5" r="1.5"/><circle cx="344.5" cy="276.6" r="1.5"/><circle cx="350.5" cy="279.7" r="1.5"/><circle cx="356.5" cy="281.2" r="1.5"/><circle cx="362.5" cy="283.25" r="1.5"/><circle cx="368.5" cy="284.5" r="1.5"/><circle cx="374.5" cy="286.6" r="1.5"/><circle cx="380.5" cy="287.4" r="1.5"/><circle cx="386.5" cy="288.7" r="1.5"/><circle cx="392.5" cy="289.7" r="1.5"/><circle cx="398.5" cy="290.75" r="1.5"/><circle cx="404.5" cy="291.8" r="1.5"/><circle cx="410.5" cy="292.2" r="1.5"/><circle cx="416.5" cy="293.25" r="1.5"/><circle cx="421.5" cy="294.3" r="1.5"/><circle cx="427.5" cy="296.4" r="1.5"/><circle cx="433.5" cy="297.4" r="1.5"/><circle cx="439.5" cy="299.5" r="1.5"/><circle cx="445.5" cy="301.2" r="1.5"/><circle cx="451.5" cy="302.6" r="1.5"/><circle cx="457.5" cy="303.7" r="1.5"/><circle cx="463.5" cy="304.7" r="1.5"/><circle cx="469.5" cy="305.75" r="1.5"/><circle cx="475.5" cy="305.75" r="1.5"/><circle cx="481.5" cy="304.7" r="1.5"/><circle cx="487.5" cy="304.7" r="1.5"/><circle cx="493.5" cy="303.7" r="1.5"/><circle cx="499.5" cy="302.6" r="1.5"/><circle cx="505.5" cy="301.6" r="1.5"/><circle cx="510.5" cy="300.5" r="1.5"/><circle cx="516.5" cy="298.5" r="1.5"/><circle cx="522.5" cy="297.4" r="1.5"/><circle cx="528.5" cy="297.4" r="1.5"/><circle cx="534.5" cy="298.5" r="1.5"/><circle cx="540.5" cy="299.1" r="1.5"/><circle cx="546.5" cy="299.9" r="1.5"/><circle cx="552.5" cy="300.1" r="1.5"/><circle cx="558.5" cy="300.5" r="1.5"/><circle cx="564.5" cy="300.5" r="1.5"/><circle cx="570.5" cy="301.2" r="1.5"/><circle cx="576.5" cy="302.6" r="1.5"/><circle cx="582.5" cy="303.7" r="1.5"/><circle cx="588.5" cy="304.7" r="1.5"/><circle cx="593.5" cy="304.7" r="1.5"/><circle cx="599.5" cy="305.3" r="1.5"/><circle cx="605.5" cy="305.75" r="1.5"/><circle cx="611.5" cy="306.4" r="1.5"/><circle cx="617.5" cy="307.4" r="1.5"/><circle cx="623.5" cy="308.9" r="1.5"/><circle cx="629.5" cy="309.9" r="1.5"/><circle cx="635.5" cy="311" r="1.5"/><circle cx="641.5" cy="311.6" r="1.5"/><circle cx="647.5" cy="311.6" r="1.5"/><circle cx="653.5" cy="312.4" r="1.5"/><circle cx="659.5" cy="312.4" r="1.5"/><circle cx="665.5" cy="311.6" r="1.5"/><circle cx="671.5" cy="311.6" r="1.5"/><circle cx="676.5" cy="312.4" r="1.5"/><circle cx="682.5" cy="313.7" r="1.5"/><circle cx="688.5" cy="315.1" r="1.5"/><circle cx="694.5" cy="315.75" r="1.5"/><circle cx="700.5" cy="316.6" r="1.5"/><circle cx="706.5" cy="317.2" r="1.5"/><circle cx="712.5" cy="316.6" r="1.5"/><circle cx="718.5" cy="315.75" r="1.5"/><circle cx="724.5" cy="314.5" r="1.5"/><circle cx="730.5" cy="312.6" r="1.5"/><circle cx="736.5" cy="310.5" r="1.5"/><circle cx="742.5" cy="307.4" r="1.5"/><circle cx="748.5" cy="305.3" r="1.5"/><circle cx="754.5" cy="302.6" r="1.5"/><circle cx="759.5" cy="300.5" r="1.5"/><circle cx="765.5" cy="297.4" r="1.5"/><circle cx="771.5" cy="295.3" r="1.5"/><circle cx="777.5" cy="294.3" r="1.5"/><circle cx="783.5" cy="292.2" r="1.5"/><circle cx="789.5" cy="291.3" r="1.5"/><circle cx="795.5" cy="291.5" r="1.5"/><circle cx="801.5" cy="290.4" r="1.5"/><circle cx="807.5" cy="290.4" r="1.5"/><circle cx="813.5" cy="290.4" r="1.5"/><circle cx="819.5" cy="290.4" r="1.5"/><circle cx="825.5" cy="290.4" r="1.5"/><circle cx="831.5" cy="290.4" r="1.5"/><circle cx="837.5" cy="290.4" r="1.5"/><circle cx="843.5" cy="290.9" r="1.5"/><circle cx="848.5" cy="291.7" r="1.5"/><circle cx="854.5" cy="292.6" r="1.5"/><circle cx="860.5" cy="293.25" r="1.5"/><circle cx="866.5" cy="293.25" r="1.5"/><circle cx="872.5" cy="293.9" r="1.5"/>
</g>
</g>
<rect x="8.5" y="265.5" width="873" height="59" fill="none" stroke="#b3c3d3" stroke-width="1"/>
<text x="10.5" y="276.6" font-size="10.8" fill="#16166e" textLength="28.2" lengthAdjust="spacingAndGlyphs">MACD</text>
<text x="890.3" y="296.9" font-size="11" fill="#f4f4f4" stroke="#f4f4f4" stroke-width="0.25" textLength="33.2" lengthAdjust="spacingAndGlyphs">+0.000</text>
<text x="890.3" y="323.5" font-size="11" fill="#f4f4f4" stroke="#f4f4f4" stroke-width="0.25" textLength="29.3" lengthAdjust="spacingAndGlyphs">-0.005</text>
<line x1="48.5" y1="330" x2="48.5" y2="403" stroke="#7a838e" stroke-width="1" stroke-dasharray="3 3"/>
<line x1="83.5" y1="330" x2="83.5" y2="403" stroke="#7a838e" stroke-width="1" stroke-dasharray="3 3"/>
<line x1="119.5" y1="330" x2="119.5" y2="403" stroke="#7a838e" stroke-width="1" stroke-dasharray="3 3"/>
<line x1="155.5" y1="330" x2="155.5" y2="403" stroke="#7a838e" stroke-width="1" stroke-dasharray="3 3"/>
<line x1="190.5" y1="330" x2="190.5" y2="403" stroke="#7a838e" stroke-width="1" stroke-dasharray="3 3"/>
<line x1="226.5" y1="330" x2="226.5" y2="403" stroke="#7a838e" stroke-width="1" stroke-dasharray="3 3"/>
<line x1="261.5" y1="330" x2="261.5" y2="403" stroke="#7a838e" stroke-width="1" stroke-dasharray="3 3"/>
<line x1="297.5" y1="330" x2="297.5" y2="403" stroke="#7a838e" stroke-width="1" stroke-dasharray="3 3"/>
<line x1="333.5" y1="330" x2="333.5" y2="403" stroke="#7a838e" stroke-width="1" stroke-dasharray="3 3"/>
<line x1="368.5" y1="330" x2="368.5" y2="403" stroke="#7a838e" stroke-width="1" stroke-dasharray="3 3"/>
<line x1="404.5" y1="330" x2="404.5" y2="403" stroke="#7a838e" stroke-width="1" stroke-dasharray="3 3"/>
<line x1="439.5" y1="330" x2="439.5" y2="403" stroke="#7a838e" stroke-width="1" stroke-dasharray="3 3"/>
<line x1="475.5" y1="330" x2="475.5" y2="403" stroke="#7a838e" stroke-width="1" stroke-dasharray="3 3"/>
<line x1="511.5" y1="330" x2="511.5" y2="403" stroke="#7a838e" stroke-width="1" stroke-dasharray="3 3"/>
<line x1="546.5" y1="330" x2="546.5" y2="403" stroke="#7a838e" stroke-width="1" stroke-dasharray="3 3"/>
<line x1="582.5" y1="330" x2="582.5" y2="403" stroke="#7a838e" stroke-width="1" stroke-dasharray="3 3"/>
<line x1="617.5" y1="330" x2="617.5" y2="403" stroke="#7a838e" stroke-width="1" stroke-dasharray="3 3"/>
<line x1="653.5" y1="330" x2="653.5" y2="403" stroke="#7a838e" stroke-width="1" stroke-dasharray="3 3"/>
<line x1="688.5" y1="330" x2="688.5" y2="403" stroke="#7a838e" stroke-width="1" stroke-dasharray="3 3"/>
<line x1="724.5" y1="330" x2="724.5" y2="403" stroke="#7a838e" stroke-width="1" stroke-dasharray="3 3"/>
<line x1="760.5" y1="330" x2="760.5" y2="403" stroke="#7a838e" stroke-width="1" stroke-dasharray="3 3"/>
<line x1="795.5" y1="330" x2="795.5" y2="403" stroke="#7a838e" stroke-width="1" stroke-dasharray="3 3"/>
<line x1="831.5" y1="330" x2="831.5" y2="403" stroke="#7a838e" stroke-width="1" stroke-dasharray="3 3"/>
<line x1="866.5" y1="330" x2="866.5" y2="403" stroke="#7a838e" stroke-width="1" stroke-dasharray="3 3"/>
<line x1="8" y1="348.5" x2="881" y2="348.5" stroke="#7a838e" stroke-width="1" stroke-dasharray="3 3"/>
<line x1="881" y1="348.5" x2="885" y2="348.5" stroke="#b3c3d3" stroke-width="1"/>
<line x1="8" y1="379.5" x2="881" y2="379.5" stroke="#7a838e" stroke-width="1" stroke-dasharray="3 3"/>
<line x1="881" y1="379.5" x2="885" y2="379.5" stroke="#b3c3d3" stroke-width="1"/>
<g clip-path="url(#crsi)">
<g clip-path="url(#crsiabove)"><polygon points="9.0,395.0 9.0,374.3 12.2,374.3 15.3,376.0 19.0,381.0 25.0,386.0 40.0,384.0 55.0,383.0 60.1,380.6 66.3,371.4 71.5,381.2 77.8,375.6 83.0,378.0 90.3,372.9 95.5,370.8 100.7,372.2 108.0,368.7 114.2,370.8 118.4,369.1 124.7,369.3 130.9,378.0 137.2,366.0 143.4,371.8 149.7,362.5 155.9,361.0 161.1,350.6 168.4,351.0 178.8,358.3 185.1,352.0 191.3,354.1 196.5,357.2 202.8,345.8 208.0,343.7 214.2,357.7 219.5,358.9 225.7,351.0 232.0,349.3 238.2,358.3 244.5,362.5 250.0,360.3 255.2,352.6 261.4,360.3 267.5,354.2 274.0,352.9 278.5,346.7 285.0,336.1 287.6,334.4 291.5,334.0 297.3,341.3 304.4,341.5 309.6,343.5 315.4,352.6 321.9,357.1 327.7,363.6 333.5,372.4 339.4,373.7 349.7,377.2 360.1,372.6 366.2,367.2 372.9,365.0 379.8,374.3 386.0,367.2 392.3,369.8 397.9,372.2 410.0,372.2 416.2,388.1 422.5,383.3 426.7,388.1 432.9,391.6 439.2,396.8 444.4,393.7 451.7,380.2 457.9,383.3 463.8,379.8 469.4,378.1 475.6,367.2 481.2,369.3 487.5,366.0 493.3,373.5 499.2,358.3 505.4,363.9 510.4,359.3 515.8,357.2 522.1,372.9 528.3,386.4 534.6,374.3 540.2,376.4 546.5,381.2 552.7,377.0 558.3,377.0 564.2,367.7 570.8,381.2 577.1,385.4 582.9,382.7 589.2,382.2 593.8,380.6 600.0,370.7 605.8,385.3 610.4,383.0 616.8,383.0 622.7,386.2 627.8,388.2 635.0,391.4 641.5,386.2 647.3,376.3 653.8,378.5 660.2,379.4 666.0,383.0 671.2,386.2 677.1,396.0 682.9,399.2 688.1,400.5 694.6,397.9 700.6,395.6 705.7,378.0 709.9,373.8 718.1,368.0 724.4,361.5 730.5,365.6 736.3,354.4 742.9,356.2 749.5,355.4 754.4,354.4 760.2,351.1 765.1,352.7 771.7,357.3 777.2,354.4 783.3,364.3 789.1,361.0 795.3,370.2 800.9,372.5 807.2,364.8 812.2,363.1 819.6,363.1 825.7,366.4 831.1,364.8 837.7,369.7 843.5,380.1 849.3,382.4 854.2,382.4 860.8,375.2 866.6,375.2 871.5,377.5 871.5,395.0" fill="url(#rsif)"/></g>
<rect x="9" y="332" width="863" height="2" fill="#1c1ca8"/>
<rect x="9" y="394" width="863" height="2" fill="#1c1ca8"/>
<polyline points="9.0,374.3 12.2,374.3 15.3,376.0 19.0,381.0 25.0,386.0 40.0,384.0 55.0,383.0 60.1,380.6 66.3,371.4 71.5,381.2 77.8,375.6 83.0,378.0 90.3,372.9 95.5,370.8 100.7,372.2 108.0,368.7 114.2,370.8 118.4,369.1 124.7,369.3 130.9,378.0 137.2,366.0 143.4,371.8 149.7,362.5 155.9,361.0 161.1,350.6 168.4,351.0 178.8,358.3 185.1,352.0 191.3,354.1 196.5,357.2 202.8,345.8 208.0,343.7 214.2,357.7 219.5,358.9 225.7,351.0 232.0,349.3 238.2,358.3 244.5,362.5 250.0,360.3 255.2,352.6 261.4,360.3 267.5,354.2 274.0,352.9 278.5,346.7 285.0,336.1 287.6,334.4 291.5,334.0 297.3,341.3 304.4,341.5 309.6,343.5 315.4,352.6 321.9,357.1 327.7,363.6 333.5,372.4 339.4,373.7 349.7,377.2 360.1,372.6 366.2,367.2 372.9,365.0 379.8,374.3 386.0,367.2 392.3,369.8 397.9,372.2 410.0,372.2 416.2,388.1 422.5,383.3 426.7,388.1 432.9,391.6 439.2,396.8 444.4,393.7 451.7,380.2 457.9,383.3 463.8,379.8 469.4,378.1 475.6,367.2 481.2,369.3 487.5,366.0 493.3,373.5 499.2,358.3 505.4,363.9 510.4,359.3 515.8,357.2 522.1,372.9 528.3,386.4 534.6,374.3 540.2,376.4 546.5,381.2 552.7,377.0 558.3,377.0 564.2,367.7 570.8,381.2 577.1,385.4 582.9,382.7 589.2,382.2 593.8,380.6 600.0,370.7 605.8,385.3 610.4,383.0 616.8,383.0 622.7,386.2 627.8,388.2 635.0,391.4 641.5,386.2 647.3,376.3 653.8,378.5 660.2,379.4 666.0,383.0 671.2,386.2 677.1,396.0 682.9,399.2 688.1,400.5 694.6,397.9 700.6,395.6 705.7,378.0 709.9,373.8 718.1,368.0 724.4,361.5 730.5,365.6 736.3,354.4 742.9,356.2 749.5,355.4 754.4,354.4 760.2,351.1 765.1,352.7 771.7,357.3 777.2,354.4 783.3,364.3 789.1,361.0 795.3,370.2 800.9,372.5 807.2,364.8 812.2,363.1 819.6,363.1 825.7,366.4 831.1,364.8 837.7,369.7 843.5,380.1 849.3,382.4 854.2,382.4 860.8,375.2 866.6,375.2 871.5,377.5" fill="none" stroke="#f08a30" stroke-width="1.1"/>
<line x1="285" y1="336.1" x2="287.6" y2="334.4" stroke="#c844c8" stroke-width="1.2" stroke-linecap="round"/><line x1="287.6" y1="334.4" x2="291.5" y2="334" stroke="#c844c8" stroke-width="1.2" stroke-linecap="round"/><line x1="432.9" y1="391.6" x2="439.2" y2="396.8" stroke="#3ad03a" stroke-width="1.2" stroke-linecap="round"/><line x1="671.2" y1="386.2" x2="677.1" y2="396" stroke="#3ad03a" stroke-width="1.2" stroke-linecap="round"/><line x1="677.1" y1="396" x2="682.9" y2="399.2" stroke="#3ad03a" stroke-width="1.2" stroke-linecap="round"/><line x1="682.9" y1="399.2" x2="688.1" y2="400.5" stroke="#3ad03a" stroke-width="1.2" stroke-linecap="round"/><line x1="688.1" y1="400.5" x2="694.6" y2="397.9" stroke="#3ad03a" stroke-width="1.2" stroke-linecap="round"/><line x1="694.6" y1="397.9" x2="700.6" y2="395.6" stroke="#3ad03a" stroke-width="1.2" stroke-linecap="round"/>
</g>
<rect x="8.5" y="330.5" width="873" height="73" fill="none" stroke="#b3c3d3" stroke-width="1"/>
<rect x="9" y="331" width="16" height="12" fill="#3b4149"/>
<text x="10.5" y="341.8" font-size="10.8" fill="#e8842e" textLength="14.5" lengthAdjust="spacingAndGlyphs">RSI</text>
<text x="888.6" y="355" font-size="11" fill="#f4f4f4" stroke="#f4f4f4" stroke-width="0.25" textLength="11.9" lengthAdjust="spacingAndGlyphs">60</text>
<text x="888.6" y="386" font-size="11" fill="#f4f4f4" stroke="#f4f4f4" stroke-width="0.25" textLength="11.9" lengthAdjust="spacingAndGlyphs">40</text>
<line x1="48.5" y1="403" x2="48.5" y2="407" stroke="#b3c3d3" stroke-width="1"/>
<line x1="83.5" y1="403" x2="83.5" y2="407" stroke="#b3c3d3" stroke-width="1"/>
<line x1="119.5" y1="403" x2="119.5" y2="407" stroke="#b3c3d3" stroke-width="1"/>
<line x1="155.5" y1="403" x2="155.5" y2="407" stroke="#b3c3d3" stroke-width="1"/>
<line x1="190.5" y1="403" x2="190.5" y2="407" stroke="#b3c3d3" stroke-width="1"/>
<line x1="226.5" y1="403" x2="226.5" y2="407" stroke="#b3c3d3" stroke-width="1"/>
<line x1="261.5" y1="403" x2="261.5" y2="407" stroke="#b3c3d3" stroke-width="1"/>
<line x1="297.5" y1="403" x2="297.5" y2="407" stroke="#b3c3d3" stroke-width="1"/>
<line x1="333.5" y1="403" x2="333.5" y2="407" stroke="#b3c3d3" stroke-width="1"/>
<line x1="368.5" y1="403" x2="368.5" y2="407" stroke="#b3c3d3" stroke-width="1"/>
<line x1="404.5" y1="403" x2="404.5" y2="407" stroke="#b3c3d3" stroke-width="1"/>
<line x1="439.5" y1="403" x2="439.5" y2="407" stroke="#b3c3d3" stroke-width="1"/>
<line x1="475.5" y1="403" x2="475.5" y2="407" stroke="#b3c3d3" stroke-width="1"/>
<line x1="511.5" y1="403" x2="511.5" y2="407" stroke="#b3c3d3" stroke-width="1"/>
<line x1="546.5" y1="403" x2="546.5" y2="407" stroke="#b3c3d3" stroke-width="1"/>
<line x1="582.5" y1="403" x2="582.5" y2="407" stroke="#b3c3d3" stroke-width="1"/>
<line x1="617.5" y1="403" x2="617.5" y2="407" stroke="#b3c3d3" stroke-width="1"/>
<line x1="653.5" y1="403" x2="653.5" y2="407" stroke="#b3c3d3" stroke-width="1"/>
<line x1="688.5" y1="403" x2="688.5" y2="407" stroke="#b3c3d3" stroke-width="1"/>
<line x1="724.5" y1="403" x2="724.5" y2="407" stroke="#b3c3d3" stroke-width="1"/>
<line x1="760.5" y1="403" x2="760.5" y2="407" stroke="#b3c3d3" stroke-width="1"/>
<line x1="795.5" y1="403" x2="795.5" y2="407" stroke="#b3c3d3" stroke-width="1"/>
<line x1="831.5" y1="403" x2="831.5" y2="407" stroke="#b3c3d3" stroke-width="1"/>
<line x1="866.5" y1="403" x2="866.5" y2="407" stroke="#b3c3d3" stroke-width="1"/>
<rect x="8" y="380" width="2" height="27" fill="#c8dcdc"/>
<rect x="297" y="330" width="1.2" height="50" fill="#8d9baa"/>
<rect x="297" y="380" width="1.6" height="27" fill="#c8d8dc"/>
<rect x="9.5" y="380.5" width="61" height="19" rx="2.5" fill="#5b6b7e" stroke="#b8cad8" stroke-width="1"/>
<text x="16" y="394" font-size="11.3" fill="#eef2f6" textLength="47.4" lengthAdjust="spacingAndGlyphs">Апр 2020</text>
<rect x="297.5" y="380.5" width="63" height="19" rx="2.5" fill="#5b6b7e" stroke="#b8cad8" stroke-width="1"/>
<text x="305.7" y="394" font-size="11.3" fill="#eef2f6" textLength="48.6" lengthAdjust="spacingAndGlyphs">Май 2020</text>
<text x="48" y="426" font-size="11" fill="#f2f2f2" stroke="#f2f2f2" stroke-width="0.2" text-anchor="middle">22</text>
<text x="83" y="426" font-size="11" fill="#f2f2f2" stroke="#f2f2f2" stroke-width="0.2" text-anchor="middle">23</text>
<text x="119" y="426" font-size="11" fill="#f2f2f2" stroke="#f2f2f2" stroke-width="0.2" text-anchor="middle">24</text>
<text x="155" y="426" font-size="11" fill="#f2f2f2" stroke="#f2f2f2" stroke-width="0.2" text-anchor="middle">27</text>
<text x="190" y="426" font-size="11" fill="#f2f2f2" stroke="#f2f2f2" stroke-width="0.2" text-anchor="middle">28</text>
<text x="226" y="426" font-size="11" fill="#f2f2f2" stroke="#f2f2f2" stroke-width="0.2" text-anchor="middle">29</text>
<text x="261" y="426" font-size="11" fill="#f2f2f2" stroke="#f2f2f2" stroke-width="0.2" text-anchor="middle">30</text>
<text x="297" y="426" font-size="11" fill="#f2f2f2" stroke="#f2f2f2" stroke-width="0.2" text-anchor="middle">1</text>
<text x="333" y="426" font-size="11" fill="#f2f2f2" stroke="#f2f2f2" stroke-width="0.2" text-anchor="middle">4</text>
<text x="368" y="426" font-size="11" fill="#f2f2f2" stroke="#f2f2f2" stroke-width="0.2" text-anchor="middle">5</text>
<text x="404" y="426" font-size="11" fill="#f2f2f2" stroke="#f2f2f2" stroke-width="0.2" text-anchor="middle">6</text>
<text x="439" y="426" font-size="11" fill="#f2f2f2" stroke="#f2f2f2" stroke-width="0.2" text-anchor="middle">7</text>
<text x="475" y="426" font-size="11" fill="#f2f2f2" stroke="#f2f2f2" stroke-width="0.2" text-anchor="middle">8</text>
<text x="511" y="426" font-size="11" fill="#f2f2f2" stroke="#f2f2f2" stroke-width="0.2" text-anchor="middle">11</text>
<text x="546" y="426" font-size="11" fill="#f2f2f2" stroke="#f2f2f2" stroke-width="0.2" text-anchor="middle">12</text>
<text x="582" y="426" font-size="11" fill="#f2f2f2" stroke="#f2f2f2" stroke-width="0.2" text-anchor="middle">13</text>
<text x="617" y="426" font-size="11" fill="#f2f2f2" stroke="#f2f2f2" stroke-width="0.2" text-anchor="middle">14</text>
<text x="653" y="426" font-size="11" fill="#f2f2f2" stroke="#f2f2f2" stroke-width="0.2" text-anchor="middle">15</text>
<text x="688" y="426" font-size="11" fill="#f2f2f2" stroke="#f2f2f2" stroke-width="0.2" text-anchor="middle">18</text>
<text x="724" y="426" font-size="11" fill="#f2f2f2" stroke="#f2f2f2" stroke-width="0.2" text-anchor="middle">19</text>
<text x="760" y="426" font-size="11" fill="#f2f2f2" stroke="#f2f2f2" stroke-width="0.2" text-anchor="middle">20</text>
<text x="795" y="426" font-size="11" fill="#f2f2f2" stroke="#f2f2f2" stroke-width="0.2" text-anchor="middle">21</text>
<text x="831" y="426" font-size="11" fill="#f2f2f2" stroke="#f2f2f2" stroke-width="0.2" text-anchor="middle">22</text>
<text x="866" y="426" font-size="11" fill="#f2f2f2" stroke="#f2f2f2" stroke-width="0.2" text-anchor="middle">25</text>
</svg>
</body></html>
